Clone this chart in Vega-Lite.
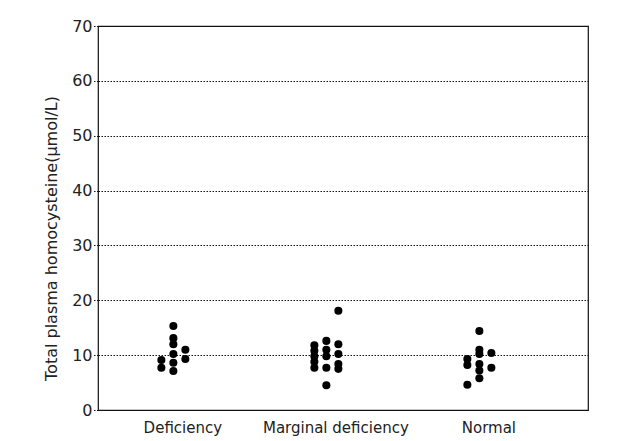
{
  "$schema": "https://vega.github.io/schema/vega-lite/v6.json",
  "autosize": "none",
  "width": 490,
  "height": 384,
  "padding": {"left": 98, "top": 26, "right": 29, "bottom": 31},
  "background": "white",
  "config": {
    "view": {"stroke": "#111", "strokeWidth": 1.2},
    "font": "DejaVu Sans",
    "axis": {"labelFont": "DejaVu Sans", "titleFont": "DejaVu Sans", "labelColor": "#222", "titleColor": "#222"}
  },
  "data": {
    "values": [
      {"group": "Deficiency", "col": "a", "value": 9.1},
      {"group": "Deficiency", "col": "a", "value": 7.7},
      {"group": "Deficiency", "col": "b", "value": 15.3},
      {"group": "Deficiency", "col": "b", "value": 13.1},
      {"group": "Deficiency", "col": "b", "value": 12.0},
      {"group": "Deficiency", "col": "b", "value": 10.2},
      {"group": "Deficiency", "col": "b", "value": 8.6},
      {"group": "Deficiency", "col": "b", "value": 7.1},
      {"group": "Deficiency", "col": "c", "value": 11.0},
      {"group": "Deficiency", "col": "c", "value": 9.3},
      {"group": "Marginal deficiency", "col": "a", "value": 11.8},
      {"group": "Marginal deficiency", "col": "a", "value": 10.8},
      {"group": "Marginal deficiency", "col": "a", "value": 9.8},
      {"group": "Marginal deficiency", "col": "a", "value": 8.8},
      {"group": "Marginal deficiency", "col": "a", "value": 7.7},
      {"group": "Marginal deficiency", "col": "b", "value": 12.6},
      {"group": "Marginal deficiency", "col": "b", "value": 11.0},
      {"group": "Marginal deficiency", "col": "b", "value": 9.8},
      {"group": "Marginal deficiency", "col": "b", "value": 7.7},
      {"group": "Marginal deficiency", "col": "b", "value": 4.5},
      {"group": "Marginal deficiency", "col": "c", "value": 18.1},
      {"group": "Marginal deficiency", "col": "c", "value": 12.0},
      {"group": "Marginal deficiency", "col": "c", "value": 10.2},
      {"group": "Marginal deficiency", "col": "c", "value": 8.4},
      {"group": "Marginal deficiency", "col": "c", "value": 7.5},
      {"group": "Normal", "col": "a", "value": 9.3},
      {"group": "Normal", "col": "a", "value": 8.2},
      {"group": "Normal", "col": "a", "value": 4.6},
      {"group": "Normal", "col": "b", "value": 14.4},
      {"group": "Normal", "col": "b", "value": 11.0},
      {"group": "Normal", "col": "b", "value": 10.2},
      {"group": "Normal", "col": "b", "value": 8.4},
      {"group": "Normal", "col": "b", "value": 7.2},
      {"group": "Normal", "col": "b", "value": 5.8},
      {"group": "Normal", "col": "c", "value": 10.4},
      {"group": "Normal", "col": "c", "value": 7.7}
    ]
  },
  "mark": {"type": "circle", "size": 65, "color": "black", "opacity": 1},
  "encoding": {
    "x": {
      "field": "group",
      "type": "nominal",
      "sort": ["Deficiency", "Marginal deficiency", "Normal"],
      "scale": {"paddingInner": 0, "paddingOuter": 0.1013, "align": 0.27},
      "axis": {"title": null, "labelAngle": 0, "domain": false, "ticks": false, "labelFontSize": 15, "labelPadding": 10}
    },
    "xOffset": {
      "field": "col",
      "type": "nominal",
      "scale": {"type": "point", "range": [49, 85]}
    },
    "y": {
      "field": "value",
      "type": "quantitative",
      "scale": {"domain": [0, 70], "nice": false, "zero": true},
      "axis": {
        "title": "Total plasma homocysteine(μmol/L)",
        "titleFontSize": 16,
        "titleFontWeight": "normal",
        "titleX": -39,
        "titleY": 212,
        "values": [0, 10, 20, 30, 40, 50, 60, 70],
        "labelFontSize": 16,
        "labelPadding": 1,
        "tickSize": 5,
        "tickColor": "#111",
        "tickDash": [1.5, 1.5],
        "domain": false,
        "grid": true,
        "gridColor": "#111",
        "gridDash": [1.5, 1.5],
        "gridWidth": 1.2,
        "gridOpacity": 1
      }
    }
  }
}
